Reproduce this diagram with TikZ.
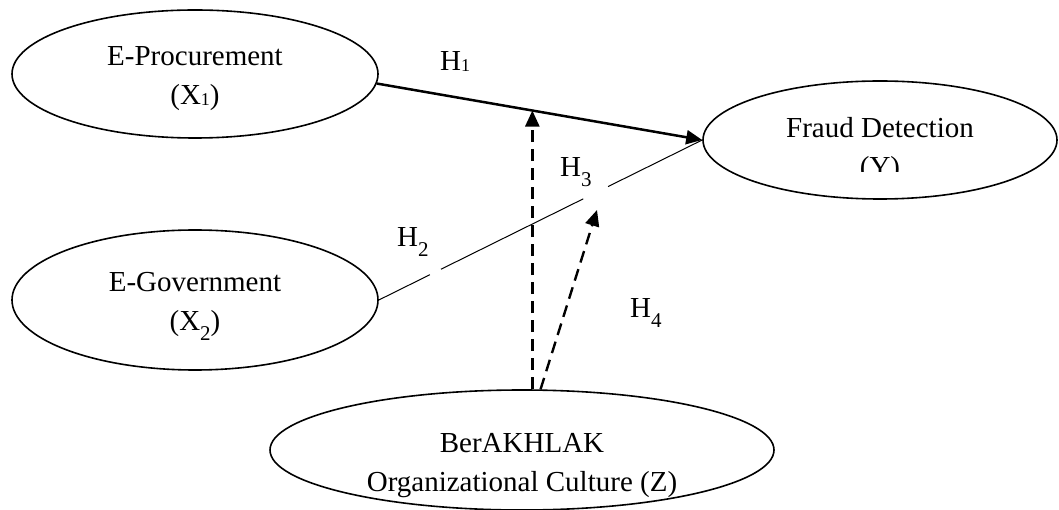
\documentclass[tikz,border=0pt]{standalone}
\usepackage{fontspec}
\setmainfont{Liberation Serif}
\usetikzlibrary{arrows.meta,shapes.geometric}

\newcommand{\lsub}[1]{\raisebox{-10pt}{\fontsize{21}{21}\selectfont #1}}
\newcommand{\ssub}[1]{\raisebox{-1pt}{\fontsize{18}{18}\selectfont #1}}

\tikzset{
	var/.style = {draw, ellipse, line width = 1.6pt, inner sep = 0pt},
	txt/.style = {align = center, inner sep = 0pt, font = \fontsize{29}{39}\selectfont},
	hyp/.style = {anchor = base west, inner sep = 0pt, font = \fontsize{29}{34}\selectfont},
	mod/.style = {line width = 2.4pt, dash pattern = on 12pt off 7pt, -{Triangle[length=16pt,width=14pt]}}
}

\begin{document}
\begin{tikzpicture}[x = 1pt, y = -1pt]
		\useasboundingbox (0,0) rectangle (1059,510);
		
		\node (eproc) at (195,74) [var, minimum width = 366pt, minimum height = 128pt] {};
		\node (eproct) at (195,79) [txt] {E-Procurement\\(X\ssub{1})};
		
		\node (egov) at (195,300) [var, minimum width = 366pt, minimum height = 140pt] {};
		\node (egovt) at (195,306) [txt] {E-Government\\(X\lsub{2})};
		
		\node (fraud) at (880,140) [var, minimum width = 354pt, minimum height = 118pt] {};
		\begin{scope}
			\clip (700,80) rectangle (1059,172);
			\node (fraudt) at (880,150) [txt] {Fraud Detection\\(Y)};
		\end{scope}
		
		\node (berak) at (522,450) [var, minimum width = 504pt, minimum height = 120pt] {};
		\node (berakt) at (522,466) [txt] {BerAKHLAK\\Organizational Culture (Z)};
		
		\draw [line width = 2.5pt, -{Triangle[length=16pt,width=14pt]}] (eproc.-3) -- (fraud.west) coordinate [pos = .478] (m1);
		\path (egov.east) -- (fraud.west) coordinate [pos = .158] (g1) coordinate [pos = .192] (g2)
			coordinate [pos = .632] (g3) coordinate [pos = .709] (g4);
		\draw [line width = 1pt] (egov.east) -- (g1) (g2) -- (g3) (g4) -- (fraud.west);
		
		\coordinate (m2) at (597,210);
		\draw [mod] (berak.north -| m1) -- (m1);
		\draw [mod] (berak.73) -- (m2);
		
		\node (h1) at (440,71) [hyp] {H\ssub{1}};
		\node (h2) at (397,247) [hyp] {H\lsub{2}};
		\node (h3) at (560,177) [hyp] {H\lsub{3}};
		\node (h4) at (630,317) [hyp] {H\lsub{4}};
\end{tikzpicture}
\end{document}
